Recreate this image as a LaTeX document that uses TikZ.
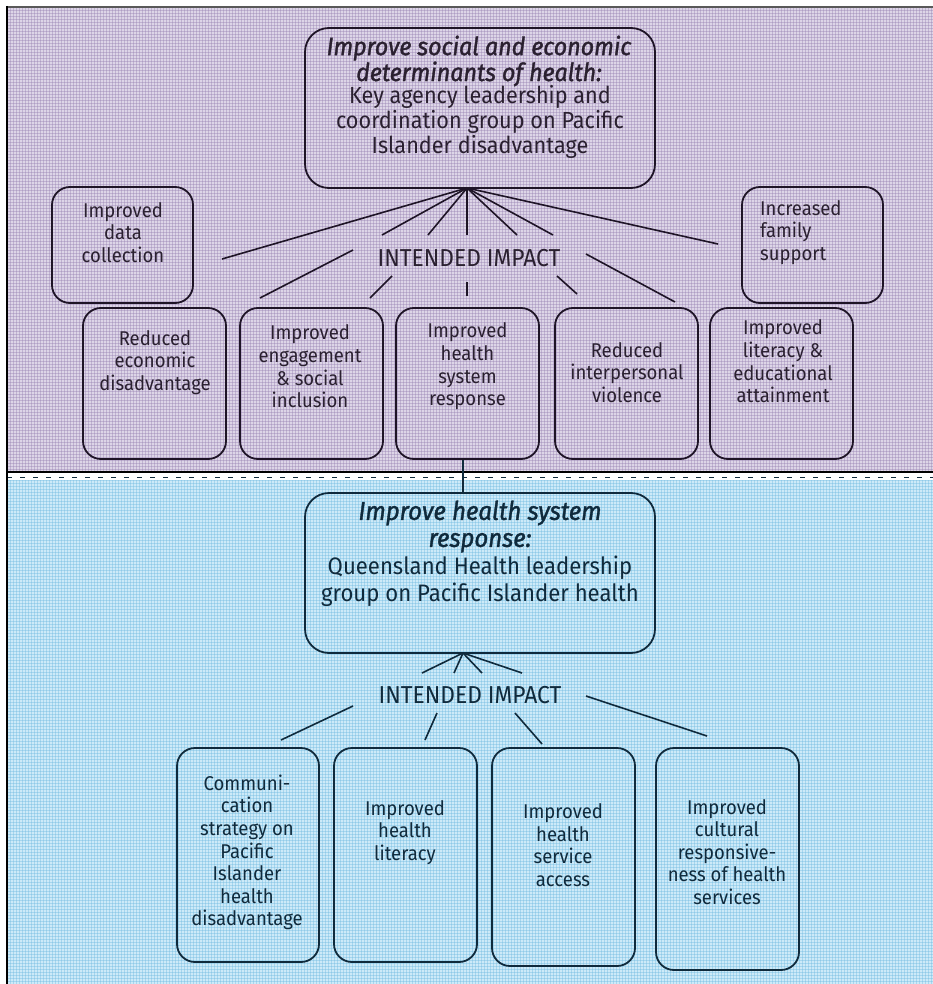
\documentclass[tikz,border=0pt]{standalone}
\usepackage{fontspec}
\setmainfont{Fira Sans}[FakeStretch=0.93]
\newfontfamily\headfont{Fira Sans}[FakeBold=1.4, FakeStretch=0.93]
\definecolor{purpA}{RGB}{221,213,231}
\definecolor{purpL}{RGB}{150,128,178}
\definecolor{blueA}{RGB}{205,234,248}
\definecolor{blueL}{RGB}{110,185,225}
\definecolor{lineP}{RGB}{30,20,38}
\definecolor{textP}{RGB}{42,32,48}
\definecolor{lineN}{RGB}{15,42,60}
\definecolor{textN}{RGB}{15,42,60}
\tikzset{
  boxP/.style={rectangle, draw=lineP, line width=1.8pt, rounded corners=18pt, inner sep=0pt},
  boxN/.style={rectangle, draw=lineN, line width=1.8pt, rounded corners=18pt, inner sep=0pt},
  txtP/.style={text=textP, align=center, inner sep=0pt, font=\fontsize{19.9}{22.7}\selectfont},
  txtN/.style={text=textN, align=center, inner sep=0pt, font=\fontsize{19.9}{22.6}\selectfont},
  conP/.style={draw=lineP, line width=1.6pt},
  conN/.style={draw=lineN, line width=1.6pt},
}
\begin{document}
\begin{tikzpicture}[x=1pt,y=-1pt]
\useasboundingbox (0,0) rectangle (933,984);
% ---------- panels ----------
\fill[purpA] (7,7) rectangle (933,472);
\begin{scope}
  \clip (7,7) rectangle (933,472);
  \foreach \i in {0,...,309} \draw[purpL, line width=1pt, opacity=0.4] ({7.5+3*\i},7) -- ++(0,466);
  \foreach \j in {0,...,155} \draw[purpL, line width=1pt, opacity=0.4] (7,{7.5+3*\j}) -- ++(926,0);
\end{scope}
\fill[blueA] (7,480) rectangle (933,984);
\begin{scope}
  \clip (7,480) rectangle (933,984);
  \foreach \i in {0,...,309} \draw[blueL, line width=1pt, opacity=0.4] ({7.5+3*\i},480) -- ++(0,504);
  \foreach \j in {0,...,168} \draw[blueL, line width=1pt, opacity=0.4] (7,{480.5+3*\j}) -- ++(926,0);
\end{scope}
\fill[white] (7,473.5) rectangle (933,480);
\draw[lineN, line width=1.6pt, dash pattern=on 5pt off 8pt] (7,477.5) -- (933,477.5);
\draw[black, line width=2.6pt] (7,472) -- (933,472);
\draw[black!65, line width=2pt] (6,7) -- (933,7);
\draw[black, line width=2pt] (7,6) -- (7,984);

% ---------- top panel ----------
\node[boxP, rounded corners=24pt, minimum width=350pt, minimum height=160pt] (topbox) at (480,108) {};
\node[txtP, font=\headfont\itshape\fontsize{25}{23.5}\selectfont] (toph) at (479,61) {Improve social and economic\\determinants of health:};
\node[txtP, font=\fontsize{23.3}{25}\selectfont] (topt) at (480,122) {Key agency leadership and\\coordination group on Pacific\\Islander disadvantage};

\node[boxP, minimum width=141pt, minimum height=116pt] (dc) at (122.5,245) {};
\node[txtP] (dct) at (123,232.5) {Improved\\data\\collection};
\node[boxP, minimum width=141pt, minimum height=116pt] (fs) at (812.5,245) {};
\node[txtP, align=left, anchor=west] (fst) at (760,232.5) {Increased\\family\\support};

\node[txtP, font=\fontsize{24.5}{26}\selectfont] (ii1) at (469,258) {INTENDED IMPACT};

\node[boxP, minimum width=143pt, minimum height=151pt] (b1) at (154.5,383.5) {};
\node[txtP] (b1t) at (155,362.5) {Reduced\\economic\\disadvantage};
\node[boxP, minimum width=143pt, minimum height=151pt] (b2) at (311.5,383.5) {};
\node[txtP] (b2t) at (310,366.5) {Improved\\engagement\\\& social\\inclusion};
\node[boxP, minimum width=143pt, minimum height=151pt] (b3) at (467.5,383.5) {};
\node[txtP] (b3t) at (467.5,366.5) {Improved\\health\\system\\response};
\node[boxP, minimum width=143pt, minimum height=151pt] (b4) at (626.5,383.5) {};
\node[txtP] (b4t) at (627,372.5) {Reduced\\interpersonal\\violence};
\node[boxP, minimum width=143pt, minimum height=151pt] (b5) at (781.5,383.5) {};
\node[txtP] (b5t) at (783,361.5) {Improved\\literacy \&\\educational\\attainment};

\coordinate (hub1) at (467,188);
\coordinate (e1) at (222,259);
\coordinate (e2) at (382,235);
\coordinate (e3) at (428,235);
\coordinate (e4) at (467,235);
\coordinate (e5) at (517,235);
\coordinate (e6) at (553,235);
\coordinate (e7) at (718,244);
\foreach \e in {e1,e2,e3,e4,e5,e6,e7} \draw[conP] (hub1) -- (\e);

\coordinate (s1) at (353,250); \coordinate (t1) at (260,298);
\coordinate (s2) at (392,276); \coordinate (t2) at (370,298);
\coordinate (s3) at (467,282); \coordinate (t3) at (467,296);
\coordinate (s4) at (557,276); \coordinate (t4) at (577,294);
\coordinate (s5) at (586,254); \coordinate (t5) at (675,302);
\foreach \k in {1,...,5} \draw[conP] (s\k) -- (t\k);

% ---------- bottom panel ----------
\node[boxN, rounded corners=24pt, minimum width=350pt, minimum height=160pt] (blue) at (480,573) {};
\node[txtN, font=\headfont\itshape\fontsize{25.8}{27}\selectfont] (blueh) at (480,526.5) {Improve health system\\response:};
\node[txtN, font=\fontsize{23.8}{27}\selectfont] (bluet) at (480,581.5) {Queensland Health leadership\\group on Pacific Islander health};

\coordinate (vx) at (463,0);
\draw[conN] (b3.south -| vx) -- (blue.north -| vx);

\coordinate (hub2) at (463,653);
\coordinate (f1) at (422,673);
\coordinate (f2) at (454,673);
\coordinate (f3) at (482,673);
\coordinate (f4) at (522,673);
\foreach \e in {f1,f2,f3,f4} \draw[conN] (hub2) -- (\e);

\node[txtN, font=\fontsize{24.5}{26}\selectfont] (ii2) at (470,695) {INTENDED IMPACT};

\coordinate (u1) at (353,706); \coordinate (v1) at (281,740);
\coordinate (u2) at (437,713); \coordinate (v2) at (425,740);
\coordinate (u3) at (515,713); \coordinate (v3) at (542,744);
\coordinate (u4) at (586,696); \coordinate (v4) at (707,736);
\foreach \k in {1,...,4} \draw[conN] (u\k) -- (v\k);

\node[boxN, minimum width=142pt, minimum height=214pt] (c1) at (248,855) {};
\node[txtN] (c1t) at (247,852.5) {Communi-\\cation\\strategy on\\Pacific\\Islander\\health\\disadvantage};
\node[boxN, minimum width=143pt, minimum height=214pt] (c2) at (405.5,855) {};
\node[txtN] (c2t) at (405,832.5) {Improved\\health\\literacy};
\node[boxN, minimum width=143pt, minimum height=218pt] (c3) at (563.5,857) {};
\node[txtN] (c3t) at (563,845) {Improved\\health\\service\\access};
\node[boxN, minimum width=143pt, minimum height=222pt] (c4) at (727.5,859) {};
\node[txtN] (c4t) at (727,852) {Improved\\cultural\\responsive-\\ness of health\\services};
\end{tikzpicture}
\end{document}
